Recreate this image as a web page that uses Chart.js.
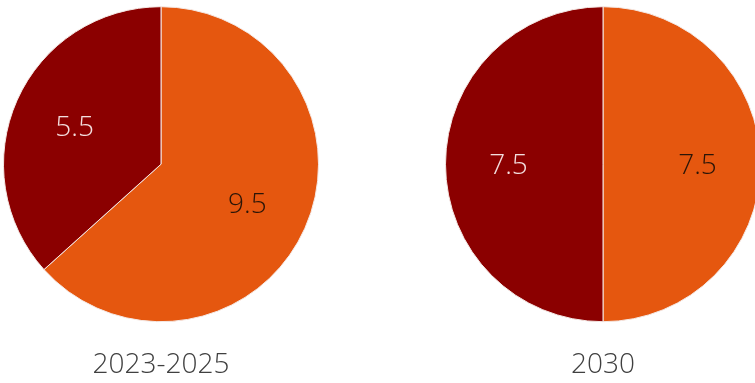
<!DOCTYPE html>
<html>
<head>
<meta charset="utf-8">
<script src="https://cdn.jsdelivr.net/npm/chart.js@4/dist/chart.umd.min.js"></script>
<style>
  html, body { margin: 0; padding: 0; background: #fff; overflow: hidden; }
  body { width: 755px; height: 383px; position: relative; }
  .pie { position: absolute; top: 6px; width: 316px; height: 376px; }
</style>
</head>
<body>
<div class="pie" style="left:3px"><canvas id="pieLeft"></canvas></div>
<div class="pie" style="left:445px"><canvas id="pieRight"></canvas></div>
<script>
const segments = ['Share A', 'Share B']
const periods = ['2023-2025', '2030']
const values2023 = [9.5, 5.5]
const values2030 = [7.5, 7.5]

const sliceColors = ['#E5570F', '#8B0000']
const labelColors = ['#2a1508', '#f3dede']

// draws the value inside each slice, a bit beyond the middle of the radius
const sliceLabels = {
  id: 'sliceLabels',
  afterDatasetsDraw(chart) {
    const ctx = chart.ctx
    const meta = chart.getDatasetMeta(0)
    ctx.save()
    ctx.font = '300 28px "Open Sans", "Noto Sans", sans-serif'
    ctx.textAlign = 'center'
    ctx.textBaseline = 'middle'
    meta.data.forEach((arc, i) => {
      const { x, y, startAngle, endAngle, outerRadius } = arc.getProps(['x', 'y', 'startAngle', 'endAngle', 'outerRadius'], true)
      const mid = (startAngle + endAngle) / 2
      const r = outerRadius * 0.6
      ctx.fillStyle = labelColors[i]
      ctx.fillText(chart.data.datasets[0].data[i], x + Math.cos(mid) * r, y + Math.sin(mid) * r + 2)
    })
    ctx.restore()
  }
}

const makePie = (id, values, title) => {
  return new Chart(document.getElementById(id), {
    type: 'pie',
    data: {
      labels: segments,
      datasets: [{
        data: values,
        backgroundColor: sliceColors,
        borderColor: '#f4e8e4',
        borderWidth: 1,
      }],
    },
    options: {
      responsive: true,
      maintainAspectRatio: false,
      animation: false,
      layout: { padding: 0 },
      plugins: {
        legend: { display: false },
        tooltip: { enabled: false },
        title: {
          display: true,
          text: title,
          position: 'bottom',
          color: '#404040',
          font: { family: '"Open Sans", "Noto Sans", sans-serif', size: 28, weight: '300' },
          padding: { top: 26, bottom: 0 },
        },
      },
    },
    plugins: [sliceLabels],
  })
}

const init = function () {
  makePie('pieLeft', values2023, periods[0])
  makePie('pieRight', values2030, periods[1])
}

document.addEventListener('DOMContentLoaded', init)
</script>
</body>
</html>
